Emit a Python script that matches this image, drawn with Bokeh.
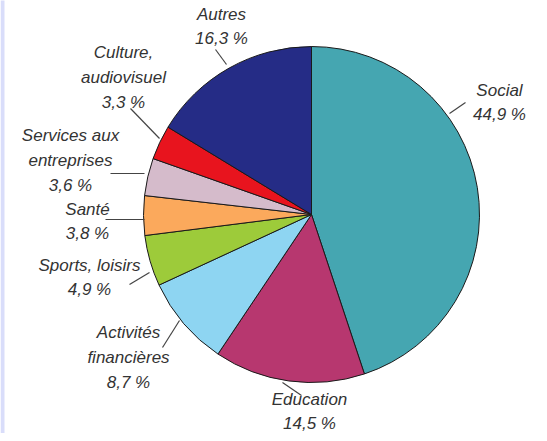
from bokeh.plotting import figure
from bokeh.models import Range1d, ColumnDataSource
from bokeh.core.properties import value
from bokeh.embed import file_html
from bokeh.resources import INLINE

# ---- data ----
categories = ["Social", "Éducation", "Activités financières", "Sports, loisirs",
              "Santé", "Services aux entreprises", "Culture, audiovisuel", "Autres"]
shares = [44.9, 14.5, 8.7, 4.9, 3.8, 3.6, 3.3, 16.3]
label_texts = ["Social\n44,9 %", "Education\n14,5 %", "Activités\nfinancières\n8,7 %",
               "Sports, loisirs\n4,9 %", "Santé\n3,8 %", "Services aux\nentreprises\n3,6 %",
               "Culture,\naudiovisuel\n3,3 %", "Autres\n16,3 %"]
colors = ["#45A6B1", "#B7376F", "#8ED5F2", "#9DCB3A", "#FBA95C", "#D5BBCB", "#E8141E", "#252C86"]

# ---- layout (page pixel coordinates) ----
W, H = 539, 433
PAGE_H = 441
cx, cy, r = 319, 222, 168
label_x = [507, 317, 136, 97, 95, 78, 131, 229]
label_y = [110, 419, 365, 285, 229, 168, 85, 34]
lead_x0 = [457, 290, 170, 137, 113, 118, 138, 223]
lead_y0 = [121, 390, 355, 292, 227, 181, 116, 57]
lead_x1 = [473, 309, 187, 157, 152, 152, 167, 234]
lead_y1 = [110, 403, 328, 280, 227, 181, 146, 72]

def fy(v):
    return PAGE_H - v

p = figure(width=W, height=H, output_backend="svg", toolbar_location=None,
           x_range=Range1d(8, 8 + W), y_range=Range1d(PAGE_H - 8 - H, PAGE_H - 8),
           min_border=0)
p.axis.visible = False
p.grid.visible = False
p.outline_line_color = None
p.background_fill_color = "white"
p.border_fill_color = "white"

# left lavender strip
p.quad(left=[8], right=[12], bottom=[fy(441)], top=[fy(0)], fill_color="#D9DDFA", line_color=None)

# wedges
starts, ends = [], []
cum = 0.0
total = sum(shares)
for s in shares:
    starts.append(90 - cum / total * 360)
    cum += s
    ends.append(90 - cum / total * 360)
src = ColumnDataSource(dict(start=starts, end=ends, color=colors, cat=categories))
p.wedge(x=cx, y=fy(cy), radius=r, start_angle="start", end_angle="end",
        start_angle_units="deg", end_angle_units="deg",
        direction="clock", fill_color="color", line_color="#1a1a1a", line_width=1, source=src)

# leader lines
p.segment(x0=lead_x0, y0=[fy(v) for v in lead_y0], x1=lead_x1, y1=[fy(v) for v in lead_y1],
          line_color="#444444", line_width=1.2)

# labels
p.text(x=label_x, y=[fy(v) for v in label_y], text=label_texts,
       text_font=value("Liberation Sans"),
       text_font_style="italic", text_font_size="17px", text_color="#333333",
       text_align="center", text_baseline="middle", text_line_height=1.3)

open("out.html", "w").write(file_html(p, INLINE))
